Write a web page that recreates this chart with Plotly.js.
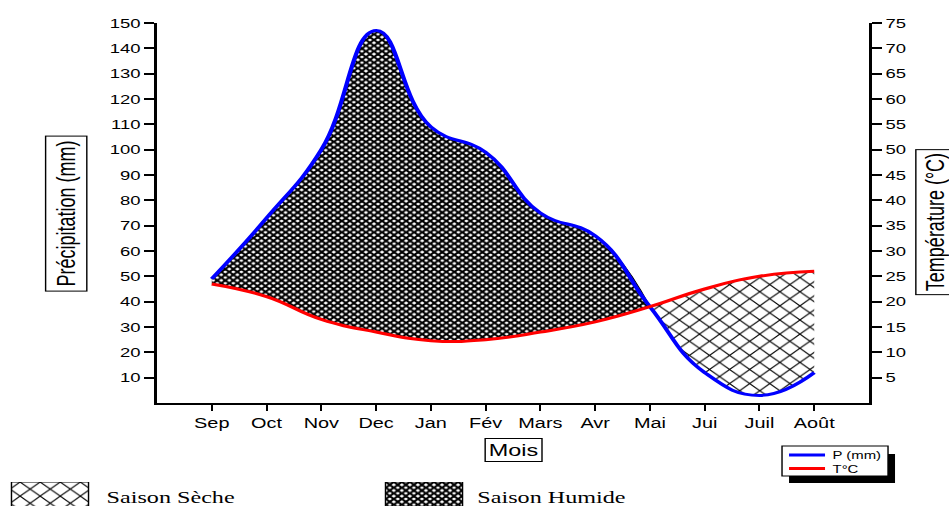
<!DOCTYPE html>
<html>
<head>
<meta charset="utf-8">
<script src="https://cdn.plot.ly/plotly-3.0.1.min.js"></script>
<style>
  html, body { margin: 0; padding: 0; overflow: hidden; background: #fff; }
  #chart { width: 668px; height: 506px; transform: scaleX(1.4207); transform-origin: 0 0; }
</style>
</head>
<body>
<div id="chart"></div>
<script>
// ---- data ----
const months = ['Sep','Oct','Nov','Dec','Jan','Fév','Mars','Avr','Mai','Jui','Juil','Août'];
const precip = [49, 73, 100, 147, 109, 99, 75, 66, 38, 12, 3, 12];         // P (mm)
const temp   = [23.5, 21, 16.5, 14, 12.3, 12.5, 14, 16, 19, 22.5, 25, 26];  // T (°C)
const pTicks = [10,20,30,40,50,60,70,80,90,100,110,120,130,140,150];
const tTicks = [5,10,15,20,25,30,35,40,45,50,55,60,65,70,75];
const seriesNames = ['P (mm)', 'T°C'];
const seriesColors = ['#0000ff', '#ff0000'];
const seasons = ['Saison Sèche', 'Saison Humide'];

// Gaussen convention: P = 2T, the right axis is half the left one
const tOnP = temp.map(t => t * 2);
const crossIdx = months.indexOf('Mai');

const W = 949, H = 506;
const px = v => v / W;
const py = v => (H - v) / H;

const sans = 'Liberation Sans, Arial, sans-serif';
const serif = 'Liberation Serif, Times New Roman, serif';

const patHumide = {shape: 'x', size: 4, solidity: 0.7, fgcolor: '#000', bgcolor: '#fff', fillmode: 'replace'};
const patSeche  = {shape: 'x', size: 10, solidity: 0.18, fgcolor: '#000', bgcolor: '#fff', fillmode: 'replace'};

const humM = months.slice(0, crossIdx + 1);
const secM = months.slice(crossIdx);
const SM = 1.3;

const traces = [
  {x: humM, y: tOnP.slice(0, crossIdx + 1), type: 'scatter', mode: 'lines',
   line: {width: 0, shape: 'spline', smoothing: SM}, showlegend: false, hoverinfo: 'skip'},
  {x: humM, y: precip.slice(0, crossIdx + 1), type: 'scatter', mode: 'lines',
   line: {width: 0.8, color: '#000', shape: 'spline', smoothing: SM}, fill: 'tonexty', fillcolor: '#fff',
   fillpattern: patHumide, showlegend: false, hoverinfo: 'skip'},
  {x: secM, y: precip.slice(crossIdx), type: 'scatter', mode: 'lines',
   line: {width: 0, shape: 'spline', smoothing: SM}, showlegend: false, hoverinfo: 'skip'},
  {x: secM, y: tOnP.slice(crossIdx), type: 'scatter', mode: 'lines',
   line: {width: 0, shape: 'spline', smoothing: SM}, fill: 'tonexty', fillcolor: '#fff',
   fillpattern: patSeche, showlegend: false, hoverinfo: 'skip'},
  {x: months, y: precip, name: seriesNames[0], type: 'scatter', mode: 'lines', showlegend: false,
   line: {color: seriesColors[0], width: 3, shape: 'spline', smoothing: SM}},
  {x: months, y: temp, name: seriesNames[1], type: 'scatter', mode: 'lines', yaxis: 'y2', showlegend: false,
   line: {color: seriesColors[1], width: 3, shape: 'spline', smoothing: SM}},
  // pattern keys at the bottom
  {x: seasons, y: [1, 1], type: 'bar', xaxis: 'x3', yaxis: 'y3', width: 0.206,
   marker: {color: '#fff', line: {color: '#000', width: 1},
            pattern: {shape: 'x', size: [10, 4], solidity: [0.18, 0.7], fgcolor: '#000', bgcolor: '#fff', fillmode: 'replace'}},
   showlegend: false, hoverinfo: 'skip'}
];

const axisCommon = {showgrid: false, zeroline: false, showline: true, linecolor: '#000', linewidth: 2,
                    tickcolor: '#000', fixedrange: true};

// legend box (drawn like the reference: framed, with a drop shadow)
const lgBox = {x0: 782, x1: 888, y0: 446, y1: 476};
const lgRows = [455, 468.5];
const legendShapes = [
  {type: 'rect', xref: 'paper', yref: 'paper', x0: px(lgBox.x0 + 7), x1: px(lgBox.x1 + 7),
   y0: py(lgBox.y0 + 8), y1: py(lgBox.y1 + 7), fillcolor: '#000', line: {width: 0}, layer: 'above'},
  {type: 'rect', xref: 'paper', yref: 'paper', x0: px(lgBox.x0), x1: px(lgBox.x1),
   y0: py(lgBox.y0), y1: py(lgBox.y1), fillcolor: '#fff', line: {color: '#000', width: 1}, layer: 'above'}
].concat(seriesNames.map((n, i) => ({
  type: 'line', xref: 'paper', yref: 'paper', x0: px(789), x1: px(825),
  y0: py(lgRows[i]), y1: py(lgRows[i]), line: {color: seriesColors[i], width: 3}, layer: 'above'})));
const legendTexts = seriesNames.map((n, i) => ({
  text: n, xref: 'paper', yref: 'paper', x: px(829), y: py(lgRows[i]), xanchor: 'left', yanchor: 'middle',
  showarrow: false, font: {size: 10.5, family: sans}}));

const layout = {
  width: 668, height: 506,
  margin: {l: 0, r: 0, t: 0, b: 0},
  paper_bgcolor: '#fff', plot_bgcolor: 'rgba(0,0,0,0)',
  font: {family: sans, color: '#000', size: 14},
  showlegend: false,
  xaxis: Object.assign({}, axisCommon, {
    domain: [px(157), px(869)], anchor: 'y', type: 'category', range: [-1, 12],
    ticks: 'outside', ticklen: 6, tickwidth: 1.4, tickfont: {size: 14, family: sans}
  }),
  xaxis2: Object.assign({}, axisCommon, {
    overlaying: 'x', side: 'top', anchor: 'y', type: 'linear', range: [-1, 12],
    tickmode: 'array', tickvals: months.map((m, i) => i), ticks: 'inside', ticklen: 4, tickwidth: 1,
    showticklabels: false
  }),
  yaxis: Object.assign({}, axisCommon, {
    domain: [py(403), py(23)], anchor: 'x', range: [0, 150],
    tickmode: 'array', tickvals: pTicks, ticks: 'outside', ticklen: 7, tickwidth: 2,
    tickfont: {size: 13, family: sans}
  }),
  yaxis2: Object.assign({}, axisCommon, {
    overlaying: 'y', side: 'right', anchor: 'x', range: [0, 75],
    tickmode: 'array', tickvals: tTicks, ticks: 'outside', ticklen: 7, tickwidth: 2,
    tickfont: {size: 13, family: sans}
  }),
  xaxis3: {domain: [0, 1], anchor: 'y3', type: 'category', range: [-0.1337, 2.4037],
           visible: false, fixedrange: true},
  yaxis3: {domain: [0, py(482)], anchor: 'x3', range: [0.1, 1], visible: false, fixedrange: true},
  shapes: legendShapes,
  annotations: [
    {text: 'Précipitation (mm)', xref: 'paper', yref: 'paper', x: px(65.5), y: py(213.5),
     xanchor: 'center', yanchor: 'middle',
     textangle: -90, showarrow: false, font: {size: 18, family: sans},
     bordercolor: '#000', borderwidth: 1, borderpad: 4, bgcolor: '#fff'},
    {text: 'Température (°C)', xref: 'paper', yref: 'paper', x: px(935), y: py(222),
     xanchor: 'center', yanchor: 'middle',
     textangle: -90, showarrow: false, font: {size: 18, family: sans},
     bordercolor: '#000', borderwidth: 1, borderpad: 3, bgcolor: '#fff'},
    {text: 'Mois', xref: 'paper', yref: 'paper', x: px(513.5), y: py(450),
     xanchor: 'center', yanchor: 'middle',
     showarrow: false, font: {size: 16.5, family: sans},
     bordercolor: '#000', borderwidth: 1, borderpad: 2, bgcolor: '#fff'},
    {text: seasons[0], xref: 'x3', yref: 'paper', x: 0, y: py(497), xanchor: 'left', yanchor: 'middle',
     xshift: 38, showarrow: false, font: {size: 17, family: serif}},
    {text: seasons[1], xref: 'x3', yref: 'paper', x: 1, y: py(497), xanchor: 'left', yanchor: 'middle',
     xshift: 36, showarrow: false, font: {size: 17, family: serif}}
  ].concat(legendTexts)
};

Plotly.newPlot('chart', traces, layout, {staticPlot: true, displayModeBar: false});
</script>
</body>
</html>
